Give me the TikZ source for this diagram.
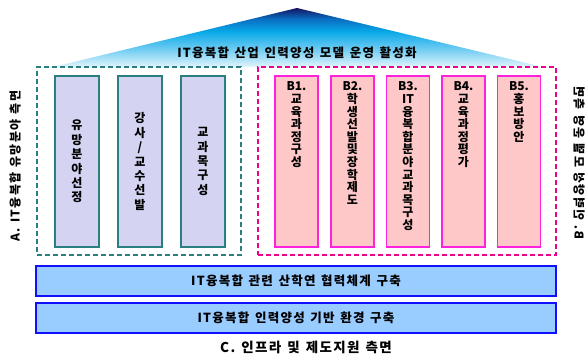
\documentclass[tikz,border=0pt]{standalone}
\usepackage{fontspec}
\newfontfamily\kr{Noto Sans CJK KR}
\newfontfamily\krsp{Noto Sans CJK KR}[LetterSpace=10]
\newcommand\krwide{\spaceskip=.45em\relax}
\definecolor{roofdark}{HTML}{141460}
\definecolor{roofblue}{HTML}{0A6CC0}
\definecolor{roofmid}{HTML}{08A8E8}
\definecolor{roofsky}{HTML}{70CCF2}
\definecolor{roofpale}{HTML}{E2F5FC}
\definecolor{tealline}{HTML}{2A8080}
\definecolor{lavender}{HTML}{D4D4F2}
\definecolor{magline}{HTML}{FF22DD}
\definecolor{pinkfill}{HTML}{FFC8C8}
\definecolor{barfill}{HTML}{99CCFF}
\definecolor{barline}{HTML}{1010FF}
\pgfdeclareverticalshading{roof}{100bp}{color(0bp)=(roofpale); color(25bp)=(roofpale);
  color(40bp)=(roofsky); color(55bp)=(roofmid); color(66bp)=(roofblue);
  color(75bp)=(roofdark); color(100bp)=(roofdark)}
\tikzset{
  hangul/.style={font={\krsp\bfseries\fontsize{#1}{#1}\selectfont\krwide}},
  frameA/.style={draw=tealline, line width=1.2pt, dash pattern=on 5pt off 3pt,
    minimum width=204pt, minimum height=188pt},
  frameB/.style={draw=magenta, line width=1.2pt, dash pattern=on 5pt off 3pt,
    minimum width=298pt, minimum height=188pt},
  pillarA/.style={draw=tealline, fill=lavender, line width=1.3pt, inner sep=0pt,
    minimum width=44pt, minimum height=171pt, align=center,
    font=\kr\bfseries\fontsize{12}{14.4}\selectfont},
  pillarB/.style={draw=magline, fill=pinkfill, line width=1.3pt, inner sep=0pt,
    minimum width=43pt, minimum height=171pt,
    label={[anchor=north, yshift=-3pt, align=center,
      font=\kr\bfseries\fontsize{12}{12.6}\selectfont]north:#1}},
  bar/.style={draw=barline, fill=barfill, line width=1.8pt,
    minimum width=520pt, minimum height=30pt, hangul=12.5},
}
\begin{document}
\begin{tikzpicture}[x=1pt,y=-1pt]
  \useasboundingbox (0,0) rectangle (588,354);
  \shade[shading=roof] (297,8) -- (543,67) -- (53,67) -- cycle;
  \node[hangul=12.5] (top) at (297,53) {IT융복합 산업 인력양성 모델 운영 활성화};

  \node[frameA] (A) at (139,161) {};
  \node[frameB] (B) at (407,161) {};

  \begin{scope}[every node/.style=pillarA]
    \node (a1) at (77,161.5) {유\\망\\분\\야\\선\\정};
    \node (a2) at (140,161.5) {강\\사\\/\\교\\수\\선\\발};
    \node (a3) at (203,161.5) {교\\과\\목\\구\\성};
  \end{scope}

  \node[pillarB={B1.\\교\\육\\과\\정\\구\\성}] (b1) at (296.5,161.5) {};
  \node[pillarB={B2.\\학\\생\\선\\발\\및\\장\\학\\제\\도}] (b2) at (352.5,161.5) {};
  \node[pillarB={B3.\\IT\\융\\복\\합\\분\\야\\교\\과\\목\\구\\성}] (b3) at (408,161.5) {};
  \node[pillarB={B4.\\교\\육\\과\\정\\평\\가}] (b4) at (463.5,161.5) {};
  \node[pillarB={B5.\\홍\\보\\방\\안}] (b5) at (519,161.5) {};

  \node[bar] (c1) at (296,281) {IT융복합 관련 산학연 협력체계 구축};
  \node[bar] (c2) at (296,318) {IT융복합 인력양성 기반 환경 구축};

  \node[hangul=12, rotate=90] (la) at (15,166) {A. IT융복합 유망분야 측면};
  \node[hangul=12, rotate=90, yscale=-1] (lb) at (579,163) {B. 인력양성 모델 운영 측면};
  \node[hangul=13.5] (lc) at (306,347) {C. 인프라 및 제도지원 측면};
\end{tikzpicture}
\end{document}
